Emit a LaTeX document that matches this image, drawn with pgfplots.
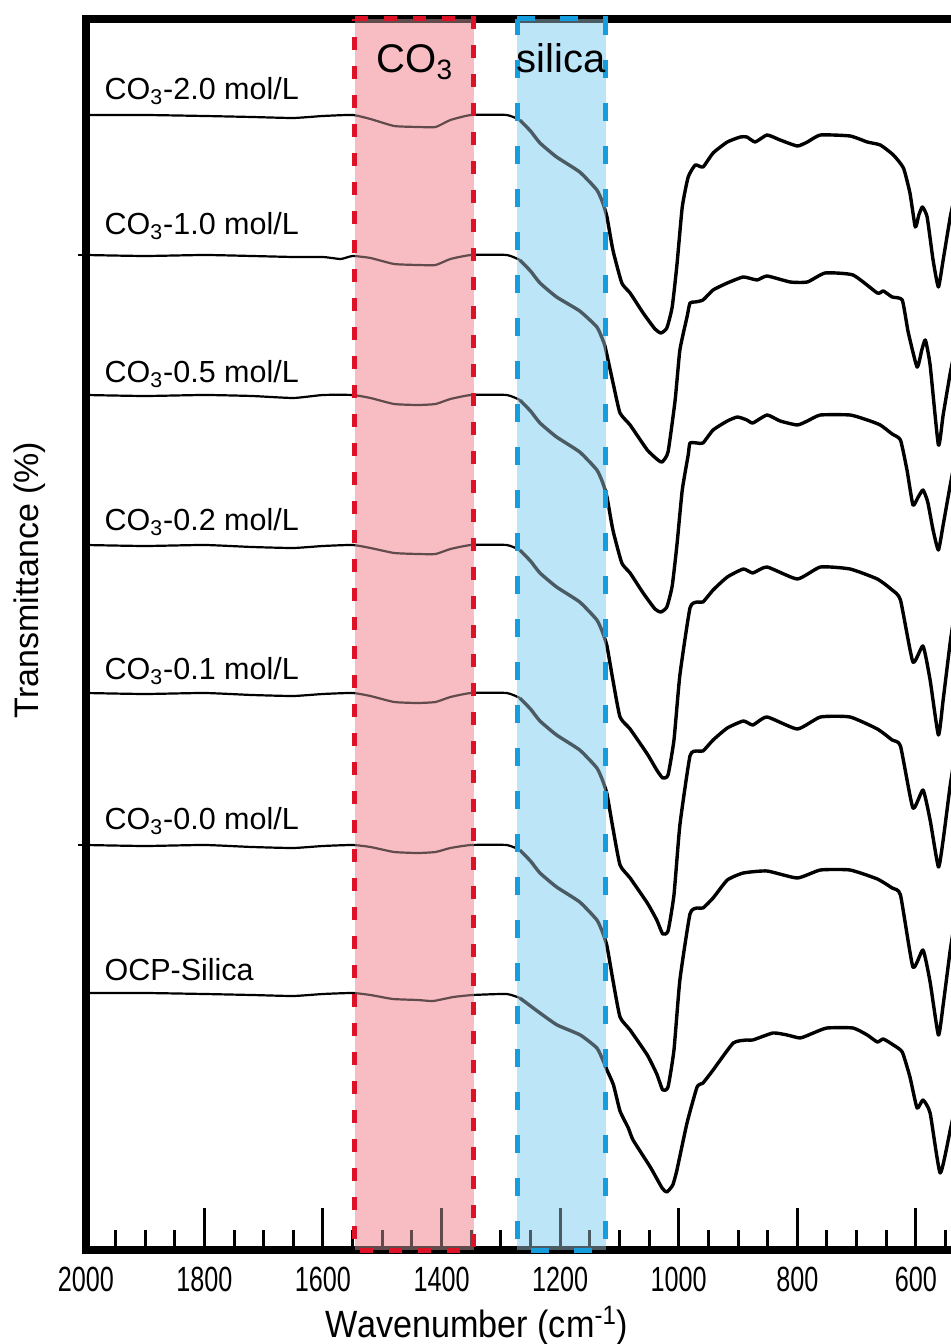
\documentclass[border=0pt]{standalone}
\usepackage{fontspec}
\setmainfont{Liberation Sans}
\newfontfamily\narrowfont[FakeStretch=0.72]{Liberation Sans}
\newfontfamily\titlefont[FakeStretch=0.9]{Liberation Sans}
\usepackage{pgfplots}
\pgfplotsset{compat=1.18}
\definecolor{pinkfill}{RGB}{247,189,194}
\definecolor{bluefill}{RGB}{189,229,248}
\definecolor{reddash}{RGB}{222,18,38}
\definecolor{bluedash}{RGB}{22,157,222}
\begin{document}
\begin{tikzpicture}
\begin{axis}[
 set layers,
 scale only axis, width=434.6pt, height=615.5pt,
 x dir=reverse, xmin=534, xmax=2000, ymin=0, ymax=1231,
 clip=false,
 axis line style={line width=4pt},
 xtick={600,800,1000,1200,1400,1600,1800,2000},
 minor xtick={550,650,700,750,850,900,950,1050,1100,1150,1250,1300,1350,1450,1500,1550,1650,1700,1750,1850,1900,1950},
 xtick pos=left, xtick align=inside,
 ytick={405,995}, yticklabels={}, ytick pos=left, ytick align=outside,
 major tick length=21pt, minor tick length=10pt,
 tick style={line width=1.5pt, black},
 ytick style={/pgfplots/major tick length=4pt, line width=0.8pt},
 xticklabel style={font=\narrowfont\fontsize{17.5}{18}\selectfont, inner sep=0pt, anchor=north, yshift=-8.5pt},
 /pgf/number format/assume math mode=true,
 /pgf/number format/set thousands separator={},
]
% solid band backgrounds
\addplot[draw=none, fill=pinkfill, on layer=axis background] coordinates {(1546,1231) (1346,1231)} \closedcycle;
\addplot[draw=none, fill=bluefill, on layer=axis background] coordinates {(1272,1231) (1123,1231)} \closedcycle;

% CO3-2.0
\addplot[black, line width=1.1pt, smooth, tension=0.3] coordinates {(2000,1135) (1900,1135) (1800,1134) (1720,1133) (1650,1132) (1600,1134) (1550,1135) (1520,1131) (1480,1124) (1440,1123) (1410,1123) (1385,1130) (1350,1135) (1290,1135) (1268,1130)};
\addplot[black, line width=1.7pt, smooth, tension=0.3, line join=round] coordinates {(1268,1130) (1250,1119) (1234,1107) (1206,1093) (1167,1078) (1138,1060) (1128,1047) (1121,1033) (1111,1000) (1096,967) (1082,957) (1060,937) (1040,921) (1030,917) (1020,922) (1011,943) (1003,985) (994,1043) (984,1073) (972,1085) (959,1083) (942,1097) (918,1108) (896,1113) (885,1113) (871,1108) (851,1115) (829,1110) (800,1104) (783,1108) (761,1115) (711,1114) (682,1108) (660,1105) (638,1095) (621,1082) (610,1057) (601,1023) (595,1035) (589,1043) (581,1033) (571,990) (562,963) (554,990) (542,1033) (534,1055)};

% CO3-1.0
\addplot[black, line width=1.1pt, smooth, tension=0.3] coordinates {(2000,995) (1900,994) (1800,995) (1720,994) (1650,993) (1600,993) (1570,991) (1550,994) (1520,992) (1480,986) (1440,985) (1410,985) (1385,991) (1350,995) (1290,995) (1268,990)};
\addplot[black, line width=1.7pt, smooth, tension=0.3, line join=round] coordinates {(1268,990) (1250,979) (1234,967) (1206,953) (1167,939) (1138,923) (1128,910) (1124,903) (1110,865) (1099,837) (1082,825) (1053,800) (1035,790) (1028,788) (1018,798) (1006,850) (998,900) (986,933) (981,947) (972,948) (959,950) (942,960) (918,967) (891,973) (868,970) (851,974) (812,968) (783,968) (753,977) (706,975) (665,957) (655,959) (640,953) (623,950) (613,918) (598,883) (590,900) (584,910) (576,885) (562,805) (554,835) (542,877) (534,900)};

% CO3-0.5
\addplot[black, line width=1.1pt, smooth, tension=0.3] coordinates {(2000,855) (1900,854) (1800,855) (1720,854) (1650,852) (1600,855) (1550,855) (1520,852) (1480,846) (1440,845) (1410,846) (1385,851) (1350,855) (1290,855) (1268,850)};
\addplot[black, line width=1.7pt, smooth, tension=0.3, line join=round] coordinates {(1268,850) (1250,839) (1234,827) (1206,813) (1167,798) (1138,780) (1128,767) (1121,753) (1111,720) (1096,687) (1082,677) (1060,657) (1040,641) (1030,638) (1020,643) (1011,664) (1003,705) (994,760) (984,795) (981,807) (969,807) (959,807) (942,820) (918,829) (901,833) (885,830) (875,827) (851,835) (829,829) (800,825) (783,829) (761,835) (711,835) (682,830) (660,825) (640,816) (626,810) (615,780) (605,745) (597,752) (588,760) (580,748) (571,720) (562,700) (554,725) (542,765) (534,790)};

% CO3-0.2
\addplot[black, line width=1.1pt, smooth, tension=0.3] coordinates {(2000,705) (1900,704) (1800,705) (1720,703) (1650,702) (1600,704) (1550,705) (1520,702) (1480,697) (1440,696) (1410,696) (1385,701) (1350,705) (1290,705) (1268,700)};
\addplot[black, line width=1.7pt, smooth, tension=0.3, line join=round] coordinates {(1268,700) (1250,689) (1234,677) (1206,663) (1167,648) (1138,630) (1128,617) (1121,604) (1111,570) (1099,533) (1082,521) (1053,496) (1037,480) (1027,472) (1018,475) (1008,510) (998,575) (981,642) (969,648) (959,648) (942,660) (918,673) (891,681) (875,677) (851,683) (800,671) (761,683) (711,681) (665,671) (640,660) (626,650) (605,588) (588,604) (576,570) (562,515) (554,550) (542,608) (534,640)};

% CO3-0.1
\addplot[black, line width=1.1pt, smooth, tension=0.3] coordinates {(2000,557) (1900,556) (1800,557) (1720,555) (1650,554) (1600,556) (1550,557) (1520,554) (1480,548) (1440,547) (1410,548) (1385,553) (1350,557) (1290,557) (1268,552)};
\addplot[black, line width=1.7pt, smooth, tension=0.3, line join=round] coordinates {(1268,552) (1250,541) (1234,529) (1206,515) (1167,500) (1138,482) (1128,469) (1121,456) (1111,422) (1099,385) (1082,372) (1053,347) (1037,330) (1027,316) (1018,319) (1008,355) (998,425) (981,494) (969,499) (959,499) (942,510) (918,522) (891,529) (875,525) (851,533) (800,521) (761,533) (711,533) (665,521) (640,510) (626,504) (605,442) (588,460) (576,430) (562,383) (554,410) (542,465) (534,495)};

% CO3-0.0
\addplot[black, line width=1.1pt, smooth, tension=0.3] coordinates {(2000,405) (1900,404) (1800,405) (1720,403) (1650,402) (1600,404) (1550,405) (1520,403) (1480,398) (1440,397) (1410,398) (1385,402) (1350,405) (1290,405) (1268,400)};
\addplot[black, line width=1.7pt, smooth, tension=0.3, line join=round] coordinates {(1268,400) (1250,389) (1234,377) (1206,363) (1167,348) (1138,330) (1128,317) (1121,304) (1111,270) (1099,233) (1082,220) (1053,195) (1037,176) (1027,160) (1018,163) (1008,200) (998,270) (981,336) (969,342) (959,342) (942,352) (918,370) (891,377) (851,379) (800,372) (761,380) (711,380) (665,371) (640,362) (626,355) (605,283) (588,300) (576,268) (562,215) (554,245) (542,300) (534,330)};

% OCP-Silica
\addplot[black, line width=1.1pt, smooth, tension=0.3] coordinates {(2000,257) (1900,257) (1800,256) (1720,255) (1650,254) (1600,256) (1550,257) (1520,255) (1482,251) (1440,250) (1414,249) (1380,253) (1347,255) (1290,256) (1268,252)};
\addplot[black, line width=1.7pt, smooth, tension=0.3, line join=round] coordinates {(1268,252) (1234,237) (1205,225) (1166,215) (1138,202) (1128,190) (1121,180) (1110,165) (1099,139) (1085,122) (1077,110) (1048,83) (1028,62) (1020,58) (1010,65) (1003,80) (986,127) (969,163) (959,167) (942,180) (908,207) (885,210) (875,210) (841,217) (817,215) (795,212) (773,217) (750,222) (706,222) (682,215) (665,208) (655,211) (638,205) (623,198) (610,173) (598,142) (588,150) (576,137) (559,77) (542,120) (534,142)};

% translucent band overlays with dashed borders
\addplot[fill=pinkfill, fill opacity=0.4, draw=reddash, line width=2.5pt, dash pattern=on 6.5pt off 8pt] coordinates {(1546,1231) (1346,1231)} \closedcycle;
\addplot[fill=bluefill, fill opacity=0.4, draw=bluedash, line width=2.5pt, dash pattern=on 9pt off 12.5pt] coordinates {(1272,1231) (1123,1231)} \closedcycle;

% texts
\node[anchor=base west, inner sep=0pt, font=\fontsize{15.25}{18}\selectfont] at (axis cs:1969,1150) {CO\textsubscript{3}-2.0 mol/L};
\node[anchor=base west, inner sep=0pt, font=\fontsize{15.25}{18}\selectfont] at (axis cs:1969,1015) {CO\textsubscript{3}-1.0 mol/L};
\node[anchor=base west, inner sep=0pt, font=\fontsize{15.25}{18}\selectfont] at (axis cs:1969,867) {CO\textsubscript{3}-0.5 mol/L};
\node[anchor=base west, inner sep=0pt, font=\fontsize{15.25}{18}\selectfont] at (axis cs:1969,719) {CO\textsubscript{3}-0.2 mol/L};
\node[anchor=base west, inner sep=0pt, font=\fontsize{15.25}{18}\selectfont] at (axis cs:1969,570) {CO\textsubscript{3}-0.1 mol/L};
\node[anchor=base west, inner sep=0pt, font=\fontsize{15.25}{18}\selectfont] at (axis cs:1969,420) {CO\textsubscript{3}-0.0 mol/L};
\node[anchor=base west, inner sep=0pt, font=\fontsize{15.25}{18}\selectfont] at (axis cs:1969,269) {OCP-Silica};
\node[anchor=base, inner sep=0pt, font=\fontsize{20}{24}\selectfont] at (axis cs:1445,1177) {CO\textsubscript{3}};
\node[anchor=base, inner sep=0pt, font=\fontsize{20}{24}\selectfont] at (axis cs:1198,1177) {silica};
\node[rotate=90, inner sep=0pt, font=\fontsize{17}{20}\selectfont] at (axis cs:2094,670) {Transmittance (\%)};
\node[anchor=base, inner sep=0pt, yshift=-43.5pt, font=\titlefont\fontsize{19}{22}\selectfont] at (axis cs:1340,0) {Wavenumber (cm\textsuperscript{-1})};
\end{axis}
\pgfresetboundingbox
\path (current axis.south west) ++(-42.9pt,-47pt) rectangle ([xshift=-2pt,yshift=9.5pt]current axis.north east);
\end{tikzpicture}
\end{document}
